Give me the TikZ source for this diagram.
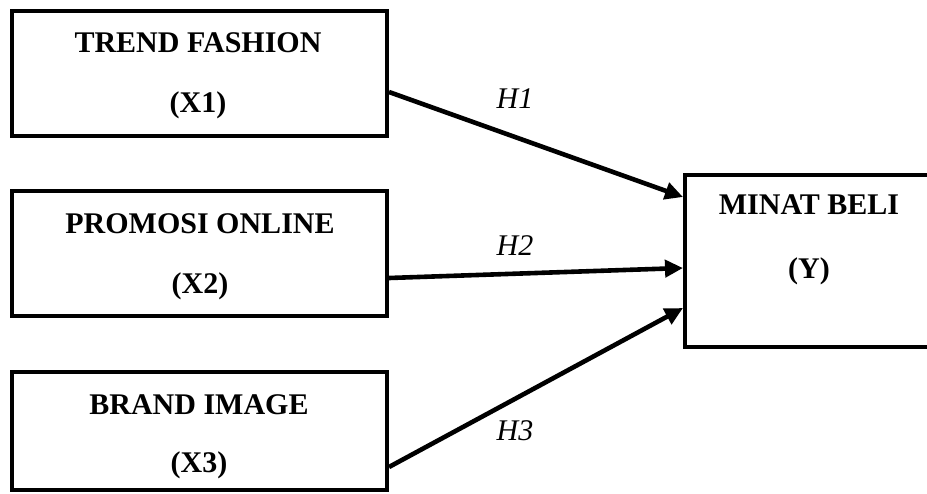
\documentclass[tikz,border=0pt]{standalone}
\usepackage{fontspec}
\setmainfont{Liberation Serif}
\usetikzlibrary{arrows.meta,positioning}

\begin{document}
\begin{tikzpicture}[x=0.5pt, y=-0.5pt, line width=2pt, >={Triangle[length=9pt,width=8.5pt]},
  varbox/.style={draw, minimum width=187.5pt, inner sep=0pt},
  vartext/.style={font=\fontsize{15}{18}\selectfont\bfseries, anchor=base, inner sep=0pt},
  hyp/.style={font=\fontsize{15}{18}\selectfont\itshape, anchor=base, inner sep=0pt}]
\useasboundingbox (0,0) rectangle (927,493);
% independent variables
\node[varbox, minimum height=62.5pt] (x1) at (199.5,73.5) {};
\node[varbox, minimum height=62.5pt] (x2) at (199.5,253.5) {};
\node[varbox, minimum height=59pt] (x3) at (199.5,431) {};
\node[vartext] (x1a) at (198,52) {TREND FASHION};
\node[vartext] (x1b) at (198,112) {(X1)};
\node[vartext] (x2a) at (200,233) {PROMOSI ONLINE};
\node[vartext] (x2b) at (200,293) {(X2)};
\node[vartext] (x3a) at (199,414) {BRAND IMAGE};
\node[vartext] (x3b) at (199,472) {(X3)};
% dependent variable
\node[varbox, minimum width=122.5pt, minimum height=86pt] (y) at (807.5,261) {};
\node[vartext] (ya) at (809,214) {MINAT BELI};
\node[vartext] (yb) at (809,278) {(Y)};
% hypotheses
\draw[->, line width=2.3pt] ([yshift=-9.25pt]x1.east) -- ([yshift=32pt]y.west);
\draw[->, line width=2.3pt] ([yshift=-12.25pt]x2.east) -- ([yshift=-3.5pt]y.west);
\draw[->, line width=2.3pt] ([yshift=-18pt]x3.east) -- ([yshift=-23.5pt]y.west);
\node[hyp] (h1) at (515,108) {H1};
\node[hyp] (h2) at (515,255) {H2};
\node[hyp] (h3) at (515,440) {H3};
\end{tikzpicture}
\end{document}
